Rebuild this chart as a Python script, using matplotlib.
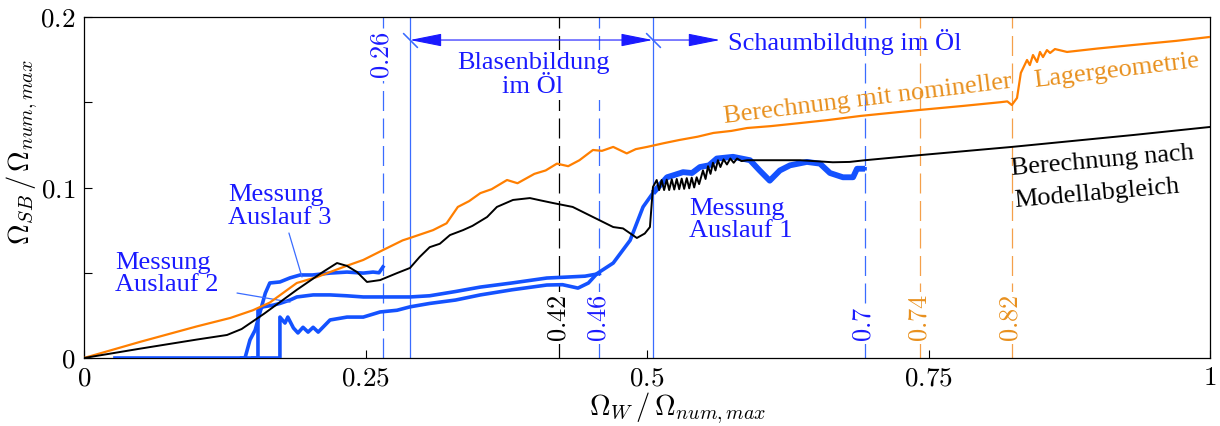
import matplotlib
matplotlib.use("Agg")
import matplotlib.pyplot as plt

plt.rcParams['mathtext.fontset'] = 'cm'
plt.rcParams['font.family'] = ['Liberation Serif', 'DejaVu Serif']

# --- data --------------------------------------------------------------
# Berechnung mit nomineller Lagergeometrie (orange)
nom_x = [0, 0.05, 0.10, 0.13, 0.15, 0.165, 0.189, 0.207, 0.2185, 0.233, 0.248,
         0.2655, 0.283, 0.2895, 0.31, 0.322, 0.332, 0.342, 0.352, 0.362, 0.3757,
         0.385, 0.40, 0.41, 0.42, 0.43, 0.44, 0.452, 0.46, 0.47, 0.482, 0.49,
         0.5, 0.515, 0.529, 0.545, 0.559, 0.575, 0.589, 0.61, 0.636, 0.66,
         0.69, 0.7425, 0.78, 0.8135, 0.82, 0.824, 0.8286, 0.832, 0.8375, 0.840,
         0.8428, 0.8464, 0.849, 0.8517, 0.8552, 0.858, 0.8623, 0.873, 0.90,
         0.932, 0.97, 1.0]
nom_y = [0, 0.0095, 0.0185, 0.0235, 0.028, 0.0325, 0.044, 0.0475, 0.0504, 0.054, 0.0575,
         0.0633, 0.069, 0.0704, 0.075, 0.079, 0.0886, 0.092, 0.0967, 0.099, 0.1044,
         0.1025, 0.108, 0.110, 0.114, 0.1125, 0.116, 0.122, 0.1215, 0.1238, 0.120, 0.1225,
         0.1238, 0.126, 0.1279, 0.1298, 0.132, 0.1332, 0.1349, 0.136, 0.1378, 0.1395,
         0.142, 0.1455, 0.1478, 0.150, 0.1505, 0.1484, 0.1525, 0.1672, 0.1748, 0.1718,
         0.1777, 0.1736, 0.1795, 0.1765, 0.1806, 0.1789, 0.1812, 0.1795, 0.1815,
         0.1836, 0.186, 0.1883]

# Berechnung nach Modellabgleich (black)
mod_x = [0, 0.05, 0.10, 0.127, 0.14, 0.16, 0.189, 0.212, 0.2247, 0.2336, 0.2425,
         0.2513, 0.263, 0.278, 0.2895, 0.298, 0.307, 0.316, 0.325, 0.3366, 0.345,
         0.358, 0.3667, 0.381, 0.396, 0.405, 0.4165, 0.434, 0.452, 0.47, 0.4787,
         0.491, 0.498, 0.5026, 0.5053, 0.5086, 0.5108, 0.513, 0.5152, 0.5175,
         0.5197, 0.522, 0.5242, 0.5264, 0.5286, 0.5308, 0.533, 0.5353, 0.5375,
         0.5397, 0.5419, 0.5441, 0.5463, 0.5497, 0.552, 0.5542, 0.5564, 0.5586,
         0.5608, 0.563, 0.5652, 0.568, 0.571, 0.574, 0.577, 0.58, 0.584, 0.589,
         0.636, 0.665, 0.68, 0.6936, 0.7425, 0.824, 0.932, 1.0]
mod_y = [0, 0.0055, 0.0108, 0.0135, 0.017, 0.026, 0.040, 0.0504, 0.0557, 0.054, 0.0504,
         0.0446, 0.0457, 0.0498, 0.0528, 0.0592, 0.065, 0.067, 0.0721, 0.075, 0.0775,
         0.0827, 0.0886, 0.0927, 0.0938, 0.0925, 0.0909, 0.0886, 0.0827, 0.0768, 0.076,
         0.0704, 0.073, 0.0768, 0.1003, 0.1044, 0.0985, 0.1044, 0.0985, 0.1046,
         0.0985, 0.1048, 0.0988, 0.105, 0.099, 0.1052, 0.0992, 0.1055, 0.0995,
         0.1058, 0.100, 0.106, 0.102, 0.110, 0.105, 0.1125, 0.108, 0.1145,
         0.110, 0.116, 0.112, 0.1165, 0.1135, 0.117, 0.1145, 0.117, 0.1155, 0.116,
         0.116, 0.1148, 0.115, 0.116, 0.119, 0.1238, 0.1308, 0.1355]

# Messung Auslauf 1
m1_x = [0.0275, 0.174, 0.174, 0.1785, 0.181, 0.186, 0.19, 0.1945, 0.199, 0.2035,
        0.208, 0.2185, 0.2336, 0.248, 0.263, 0.278, 0.2895, 0.307, 0.33, 0.352,
        0.38, 0.411, 0.425, 0.4387, 0.448, 0.4556, 0.47, 0.485, 0.4965, 0.5053,
        0.5178, 0.525, 0.532, 0.54, 0.547, 0.555, 0.562, 0.5764, 0.5915, 0.600,
        0.609, 0.618, 0.627, 0.642, 0.6536, 0.6625, 0.674, 0.683, 0.6865, 0.6936]
m1_y = [0, 0, 0.024, 0.0205, 0.024, 0.0176, 0.0147, 0.018, 0.0152, 0.018,
        0.0152, 0.0223, 0.024, 0.024, 0.027, 0.028, 0.030, 0.032, 0.034, 0.037,
        0.040, 0.0428, 0.043, 0.041, 0.044, 0.0495, 0.0557, 0.069, 0.0886, 0.0968,
        0.106, 0.1075, 0.109, 0.1085, 0.112, 0.113, 0.117, 0.118, 0.116, 0.110,
        0.104, 0.110, 0.113, 0.115, 0.114, 0.1085, 0.106, 0.106, 0.111, 0.111]

# Messung Auslauf 2
m2_x = [0.15, 0.1545, 0.1545, 0.159, 0.168, 0.174, 0.183, 0.189, 0.2035, 0.2185,
        0.233, 0.248, 0.263, 0.278, 0.2895, 0.307, 0.33, 0.352, 0.38, 0.411,
        0.43, 0.445, 0.4577]
m2_y = [0, 0, 0.028, 0.030, 0.031, 0.032, 0.034, 0.0358, 0.037, 0.037,
        0.0365, 0.0358, 0.0358, 0.0358, 0.0358, 0.0365, 0.039, 0.0416, 0.044, 0.0469,
        0.0475, 0.048, 0.0495]

# Messung Auslauf 3
m3_x = [0.14, 0.143, 0.1474, 0.152, 0.156, 0.161, 0.165, 0.174, 0.183, 0.192,
        0.203, 0.2185, 0.2336, 0.248, 0.2567, 0.262, 0.2655]
m3_y = [0, 0, 0.0106, 0.0164, 0.026, 0.038, 0.044, 0.0446, 0.047, 0.0487,
        0.0487, 0.0498, 0.0504, 0.0498, 0.0504, 0.050, 0.0534]

# marker lines (position, label, colour key, label at top?)
mark_x = [0.2655, 0.422, 0.4577, 0.6936, 0.7427, 0.824]
mark_lbl = ['0.26', '0.42', '0.46', '0.7', '0.74', '0.82']
mark_col = ['blue', 'black', 'blue', 'blue', 'orange', 'orange']
mark_top = [True, False, False, False, False, False]

phase_x = [0.2895, 0.505]     # Blasenbildung / Schaumbildung boundaries
schaum_end = 0.5648
arrow_y = 0.1865

xticks = [0, 0.25, 0.5, 0.75, 1]
xtick_lbl = ['$0$', '$0.25$', '$0.5$', '$0.75$', '$1$']
yticks = [0, 0.05, 0.1, 0.15, 0.2]
ytick_lbl = ['$0$', '', '$0.1$', '', '$0.2$']

# --- colours ---------------------------------------------------------
c_orange = '#ff7f00'
c_orange_txt = '#e8901e'
c_meas = '#1452ff'
c_txt_blue = '#1a1aff'
c_vline = '#3a6cff'
cols = {'blue': c_vline, 'black': 'black', 'orange': '#f5a04a'}
txtcols = {'blue': c_txt_blue, 'black': 'black', 'orange': c_orange_txt}

fs = 19

fig = plt.figure(figsize=(12.2, 4.26), dpi=100)
ax = fig.add_axes([84 / 1220, 68 / 426, 1126 / 1220, 341 / 426])

# curves
ax.plot(nom_x, nom_y, color=c_orange, lw=1.6, zorder=4)
ax.plot(m1_x, m1_y, color=c_meas, lw=2.6, zorder=3)
# the noisy plateau of run 1 reads as a thicker band
ax.plot(m1_x[29:], m1_y[29:], color=c_meas, lw=4.2, zorder=3,
        solid_capstyle='butt')
ax.plot(m2_x, m2_y, color=c_meas, lw=2.6, zorder=3)
ax.plot(m3_x, m3_y, color=c_meas, lw=2.6, zorder=3)
ax.plot(mod_x, mod_y, color='black', lw=1.4, zorder=5)

# dashed marker lines with rotated value labels
for xv, lbl, ck, top in zip(mark_x, mark_lbl, mark_col, mark_top):
    ax.axvline(xv, color=cols[ck], lw=0.9, dashes=[16, 6], zorder=1)
    ax.text(xv, 0.1915 if top else 0.0094, '$' + lbl + '$', rotation=90,
            ha='center', va='top' if top else 'bottom', fontsize=fs,
            color=txtcols[ck], zorder=6,
            bbox=dict(fc='white', ec='none', pad=1.5))

# phase boundaries and arrows
for xv in phase_x:
    ax.axvline(xv, color=c_vline, lw=0.9, zorder=1)
ax.plot(phase_x, [arrow_y] * len(phase_x), ls='none', marker=(2, 2, 45),
        ms=15, mew=0.8, color=c_vline, zorder=6)
ax.annotate('', xy=(phase_x[1], arrow_y), xytext=(phase_x[0], arrow_y),
            arrowprops=dict(arrowstyle='<|-|>,head_length=1.0,head_width=0.2',
                            mutation_scale=20, color=c_txt_blue, lw=0.8,
                            shrinkA=0, shrinkB=0))
ax.annotate('', xy=(schaum_end, arrow_y), xytext=(phase_x[1], arrow_y),
            arrowprops=dict(arrowstyle='-|>,head_length=1.0,head_width=0.2',
                            mutation_scale=20, color=c_txt_blue, lw=0.8,
                            shrinkA=0, shrinkB=0))

ax.text(0.3988, 0.166, 'Blasenbildung\nim Öl', ha='center', va='center',
        fontsize=fs, color=c_txt_blue, linespacing=1.15, zorder=6,
        bbox=dict(fc='white', ec='none', pad=1))
ax.text(0.572, 0.1853, 'Schaumbildung im Öl', ha='left', va='center',
        fontsize=fs, color=c_txt_blue, zorder=6)

# curve labels
ax.text(0.5684, 0.1377, 'Berechnung mit nomineller', rotation=7,
        rotation_mode='anchor', ha='left', va='baseline', fontsize=fs,
        color=c_orange_txt, zorder=6)
ax.text(0.8446, 0.1591, 'Lagergeometrie', rotation=7,
        rotation_mode='anchor', ha='left', va='baseline', fontsize=fs,
        color=c_orange_txt, zorder=6)
ax.text(0.824, 0.1073, 'Berechnung nach', rotation=5,
        rotation_mode='anchor', ha='left', va='baseline', fontsize=fs,
        color='black', zorder=6)
ax.text(0.8268, 0.0886, 'Modellabgleich', rotation=5,
        rotation_mode='anchor', ha='left', va='baseline', fontsize=fs,
        color='black', zorder=6)

ax.text(0.5373, 0.0809, 'Messung\nAuslauf 1', ha='left', va='center',
        fontsize=fs, color=c_txt_blue, linespacing=1.05, zorder=6)
ax.text(0.0275, 0.0493, 'Messung\nAuslauf 2', ha='left', va='center',
        fontsize=fs, color=c_txt_blue, linespacing=1.05, zorder=6)
ax.text(0.1279, 0.0891, 'Messung\nAuslauf 3', ha='left', va='center',
        fontsize=fs, color=c_txt_blue, linespacing=1.05, zorder=6)
ax.annotate('', xy=(0.183, 0.0328), xytext=(0.1359, 0.0381),
            arrowprops=dict(arrowstyle='-', color=c_vline, lw=0.9,
                            shrinkA=0, shrinkB=0))
ax.annotate('', xy=(0.1936, 0.0475), xytext=(0.182, 0.0733),
            arrowprops=dict(arrowstyle='-', color=c_vline, lw=0.9,
                            shrinkA=0, shrinkB=0))

# axes
ax.set_xlim(0, 1)
ax.set_ylim(0, 0.2)
ax.set_xticks(xticks, labels=xtick_lbl)
ax.set_yticks(yticks, labels=ytick_lbl)
ax.tick_params(direction='in', length=6, width=0.8, labelsize=19.5, pad=6)
for s in ax.spines.values():
    s.set_linewidth(0.9)

ax.set_xlabel(r'$\Omega_W\,/\,\Omega_{num,max}$', fontsize=20.5, va='center')
ax.xaxis.set_label_coords(0.527, -0.147)
ax.set_ylabel(r'$\Omega_{SB}\,/\,\Omega_{num,max}$', fontsize=20.5, va='center')
ax.yaxis.set_label_coords(-0.055, 0.603)

fig.savefig('out.png', dpi=100)
